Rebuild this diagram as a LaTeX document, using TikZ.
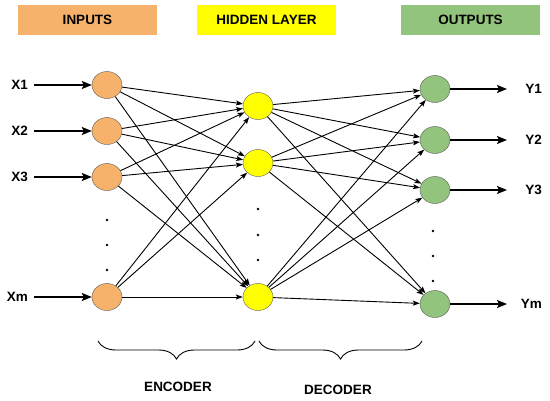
\documentclass[tikz,border=0pt]{standalone}
\usepackage{fontspec}
\setmainfont{Liberation Sans}
\usepackage{xcolor}
\usetikzlibrary{arrows.meta}
\usetikzlibrary{shapes.geometric}
\usetikzlibrary{decorations.pathreplacing}
\definecolor{in_orange}{HTML}{F6B26B}
\definecolor{hid_yellow}{HTML}{FFFF00}
\definecolor{out_green}{HTML}{93C47D}
\tikzset{
    tnode/.style = {align=center, inner sep=0pt, text centered},
    unit/.style = {tnode, ellipse, draw=black!65, minimum width=30pt, minimum height=27pt, thin},
    in_node/.style = {unit, fill=in_orange},
    hid_node/.style = {unit, fill=hid_yellow},
    out_node/.style = {unit, fill=out_green},
    head/.style = {tnode, rectangle, minimum width=139pt, minimum height=30pt, font=\fontsize{13.5}{16}\selectfont\bfseries},
    lbl/.style = {tnode, font=\fontsize{13.5}{16}\selectfont\bfseries},
    dot/.style = {circle, fill=black, inner sep=0pt, minimum size=2.6pt},
    link/.style = {-{Stealth[length=7pt, width=5pt, inset=1.5pt]}, line width=0.9pt},
    feed/.style = {-{Stealth[length=10pt, width=8pt, inset=2pt]}, line width=1.5pt},
    span/.style = {decorate, decoration={brace, mirror, amplitude=18pt}, line width=0.9pt}
}

\begin{document}
\begin{tikzpicture}
            [x=1pt, y=-1pt]

            \useasboundingbox (0,0) rectangle (550,400);

            % headers
            \node [head, fill=in_orange] (h_in) at (87.5,20) {INPUTS};
            \node [head, fill=hid_yellow] (h_hid) at (266.5,20) {HIDDEN LAYER};
            \node [head, fill=out_green] (h_out) at (470.5,20) {OUTPUTS};

            % input layer
            \foreach \n/\y in {1/85, 2/131, 3/177, m/297} {
                \node [in_node] (i\n) at (107,\y) {};
                \node [lbl, anchor=east] (x\n) at (28,\y) {X\n};
                \coordinate (xa\n) at (34,\y);
                \draw [feed] (xa\n) -- (i\n);
            }

            % hidden layer
            \foreach \n/\y in {1/106, 2/163, m/297}
                \node [hid_node] (h\n) at (258,\y) {};

            % output layer
            \foreach \n/\y in {1/89, 2/140, 3/190, m/304} {
                \node [out_node] (o\n) at (435,\y) {};
                \node [lbl, anchor=east] (y\n) at (542,\y) {Y\n};
                \coordinate (ya\n) at (507,\y);
                \draw [feed] (o\n) -- (ya\n);
            }

            % dots
            \foreach \y in {220, 245, 270} \node [dot] at (107,\y) {};
            \foreach \y in {209, 235, 260} \node [dot] at (258,\y) {};
            \foreach \y in {231, 256, 281} \node [dot] at (433,\y) {};

            % links
            \foreach \a in {1,2,3,m}
                \foreach \b in {1,2,m}
                    \draw [link] (i\a) -- (h\b);
            \foreach \a in {1,2,m}
                \foreach \b in {1,2,3,m}
                    \draw [link] (h\a) -- (o\b);

            % braces
            \coordinate (e_l) at (98,341);
            \coordinate (e_r) at (255,341);
            \coordinate (d_l) at (259,341);
            \coordinate (d_r) at (422,341);
            \draw [span] (e_l) -- (e_r);
            \draw [span] (d_l) -- (d_r);
            \node [lbl] (enc) at (178,387) {ENCODER};
            \node [lbl] (dec) at (338,390) {DECODER};
        \end{tikzpicture}
\end{document}
